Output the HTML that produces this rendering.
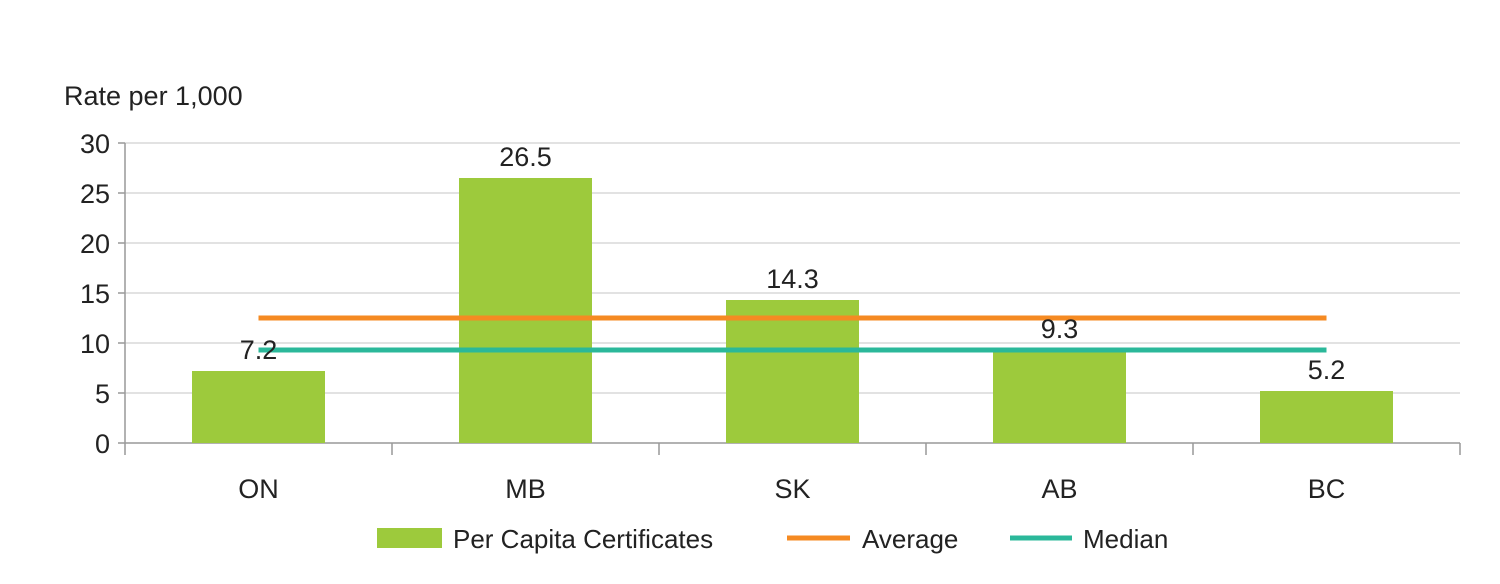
<!DOCTYPE html>
<html><head><meta charset="utf-8"><style>
body{margin:0;background:#fff;width:1500px;height:579px;overflow:hidden}
svg text{font-family:"Liberation Sans",sans-serif;fill:#222}
</style></head><body>
<svg id="chart" width="1500" height="579" xmlns="http://www.w3.org/2000/svg">
<text x="64" y="105" font-size="27">Rate per 1,000</text>
<g id="grid"></g><g id="bars"></g><g id="lines"></g><g id="labels"></g>
<g>
<rect x="377" y="528" width="65" height="20" fill="#9dca3c"/>
<text x="453" y="548" font-size="26">Per Capita Certificates</text>
<line x1="787" y1="538" x2="850" y2="538" stroke="#f58a22" stroke-width="5"/>
<text x="862" y="548" font-size="26">Average</text>
<line x1="1010" y1="538" x2="1072" y2="538" stroke="#2bb89a" stroke-width="5"/>
<text x="1083" y="548" font-size="26">Median</text>
</g>
</svg>
<script>
const categories=["ON","MB","SK","AB","BC"];
const values=[7.2,26.5,14.3,9.3,5.2];
const valueLabels=["7.2","26.5","14.3","9.3","5.2"];
const yTicks=[0,5,10,15,20,25,30];
const averageValue=[12.5];
const medianValue=[9.3];
const NS="http://www.w3.org/2000/svg";
const x0=125,x1=1460,yTop=143,yBot=443,yMax=30;
const bw=(x1-x0)/categories.length;
function y(v){return yBot-(v/yMax)*(yBot-yTop);}
function xc(i){return x0+bw*(i+0.5);}
function mk(tag,attrs,parent,txt){const e=document.createElementNS(NS,tag);for(const k in attrs)e.setAttribute(k,attrs[k]);if(txt!==undefined)e.textContent=txt;document.getElementById(parent).appendChild(e);return e;}
yTicks.forEach(t=>{
 const g=mk("line",{x1:x0,x2:x1,y1:y(t),y2:y(t),stroke:t===0?"#999":"#d9d9d9","stroke-width":1.5},"grid");
 
 
 const tk=mk("line",{x1:x0-7,x2:x0,y1:y(t),y2:y(t),stroke:"#999","stroke-width":1.5},"grid");
 
 
 const l=mk("text",{x:x0-15,y:y(t)+10,"font-size":27,"text-anchor":"end"},"grid",String(t));
 
 
});
const ax=mk("line",{x1:x0,x2:x0,y1:yTop,y2:yBot,stroke:"#999","stroke-width":1.5},"grid");


for(let i=0;i<=categories.length;i++){
 const t=mk("line",{x1:x0+bw*i,x2:x0+bw*i,y1:yBot,y2:yBot+12,stroke:"#999","stroke-width":1.5},"grid");
 
 
}
categories.forEach((c,i)=>{
 const b=mk("rect",{x:xc(i)-66.5,y:y(values[i]),width:133,height:yBot-y(values[i]),fill:"#9dca3c"},"bars");
 
 
 const vl=mk("text",{x:xc(i),y:y(values[i])-12,"font-size":27,"text-anchor":"middle"},"labels",valueLabels[i]);
 
 
 const xl=mk("text",{x:xc(i),y:498,"font-size":27,"text-anchor":"middle"},"labels",c);
 
 
});
const avg=mk("line",{x1:xc(0),x2:xc(4),y1:y(averageValue[0]),y2:y(averageValue[0]),stroke:"#f58a22","stroke-width":5},"lines");


const med=mk("line",{x1:xc(0),x2:xc(4),y1:y(medianValue[0]),y2:y(medianValue[0]),stroke:"#2bb89a","stroke-width":5},"lines");


</script>
</body></html>
